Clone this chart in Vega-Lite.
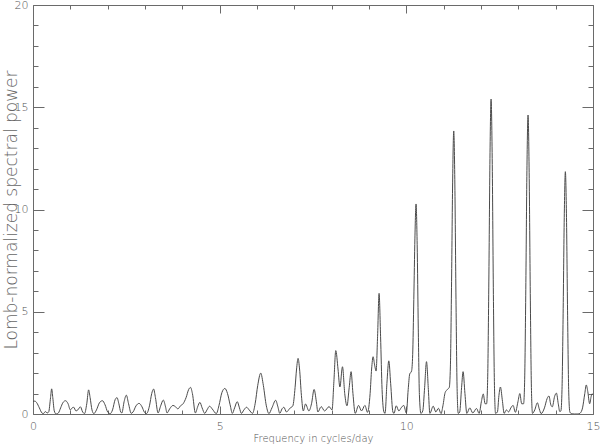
{
  "$schema": "https://vega.github.io/schema/vega-lite/v6.json",
  "width": 560,
  "height": 409,
  "autosize": {"type": "none"},
  "padding": {"left": 33, "top": 5, "right": 7, "bottom": 32},
  "background": "white",
  "config": {
    "view": {"stroke": "#6a6a6a", "strokeWidth": 1},
    "axis": {"domain": false, "grid": false, "tickColor": "#6a6a6a", "labelColor": "#505050", "titleColor": "#505050", "labelFont": "DejaVu Sans", "titleFont": "DejaVu Sans", "titleFontWeight": 200, "labelFontWeight": 200, "labelFontSize": 11, "titleFontSize": 10}
  },
  "data": {"values": [
    {"f":0.00,"p":0.62},{"f":0.05,"p":0.63},{"f":0.10,"p":0.55},{"f":0.17,"p":0.3},{"f":0.24,"p":0.05},{"f":0.28,"p":0.02},{"f":0.33,"p":0.12},{"f":0.38,"p":0.05},{"f":0.42,"p":0.1},{"f":0.47,"p":0.8},{"f":0.50,"p":1.23},{"f":0.53,"p":0.8},{"f":0.57,"p":0.15},{"f":0.62,"p":0.0},{"f":0.68,"p":0.05},{"f":0.74,"p":0.3},{"f":0.80,"p":0.55},{"f":0.87,"p":0.65},{"f":0.94,"p":0.5},{"f":1.00,"p":0.2},{"f":1.05,"p":0.3},{"f":1.09,"p":0.33},{"f":1.15,"p":0.15},{"f":1.20,"p":0.2},{"f":1.27,"p":0.35},{"f":1.33,"p":0.1},{"f":1.38,"p":0.02},{"f":1.44,"p":0.5},{"f":1.49,"p":1.18},{"f":1.53,"p":0.8},{"f":1.58,"p":0.2},{"f":1.63,"p":0.02},{"f":1.70,"p":0.2},{"f":1.78,"p":0.55},{"f":1.86,"p":0.65},{"f":1.93,"p":0.45},{"f":2.00,"p":0.1},{"f":2.07,"p":0.02},{"f":2.13,"p":0.2},{"f":2.20,"p":0.7},{"f":2.25,"p":0.8},{"f":2.30,"p":0.5},{"f":2.35,"p":0.1},{"f":2.38,"p":0.05},{"f":2.44,"p":0.6},{"f":2.50,"p":0.92},{"f":2.56,"p":0.5},{"f":2.63,"p":0.03},{"f":2.68,"p":0.1},{"f":2.76,"p":0.4},{"f":2.84,"p":0.52},{"f":2.92,"p":0.35},{"f":2.98,"p":0.1},{"f":3.04,"p":0.02},{"f":3.12,"p":0.4},{"f":3.18,"p":1.0},{"f":3.23,"p":1.22},{"f":3.28,"p":0.8},{"f":3.35,"p":0.05},{"f":3.42,"p":0.4},{"f":3.49,"p":0.68},{"f":3.55,"p":0.35},{"f":3.59,"p":0.05},{"f":3.66,"p":0.25},{"f":3.75,"p":0.42},{"f":3.82,"p":0.35},{"f":3.88,"p":0.25},{"f":3.95,"p":0.4},{"f":4.02,"p":0.5},{"f":4.10,"p":0.8},{"f":4.17,"p":1.2},{"f":4.22,"p":1.3},{"f":4.27,"p":1.0},{"f":4.35,"p":0.05},{"f":4.41,"p":0.35},{"f":4.47,"p":0.57},{"f":4.53,"p":0.3},{"f":4.60,"p":0.03},{"f":4.66,"p":0.2},{"f":4.73,"p":0.38},{"f":4.80,"p":0.25},{"f":4.91,"p":0.02},{"f":4.98,"p":0.4},{"f":5.06,"p":1.05},{"f":5.14,"p":1.25},{"f":5.21,"p":1.0},{"f":5.28,"p":0.45},{"f":5.34,"p":0.03},{"f":5.40,"p":0.3},{"f":5.47,"p":0.6},{"f":5.53,"p":0.3},{"f":5.58,"p":0.03},{"f":5.65,"p":0.2},{"f":5.72,"p":0.33},{"f":5.79,"p":0.2},{"f":5.88,"p":0.03},{"f":5.95,"p":0.5},{"f":6.02,"p":1.4},{"f":6.10,"p":2.0},{"f":6.17,"p":1.4},{"f":6.25,"p":0.4},{"f":6.32,"p":0.02},{"f":6.40,"p":0.3},{"f":6.50,"p":0.67},{"f":6.56,"p":0.35},{"f":6.61,"p":0.03},{"f":6.67,"p":0.25},{"f":6.72,"p":0.33},{"f":6.79,"p":0.1},{"f":6.88,"p":0.28},{"f":6.96,"p":0.4},{"f":7.02,"p":1.3},{"f":7.06,"p":2.2},{"f":7.10,"p":2.72},{"f":7.14,"p":2.2},{"f":7.19,"p":0.9},{"f":7.24,"p":0.15},{"f":7.30,"p":0.49},{"f":7.39,"p":0.15},{"f":7.46,"p":0.5},{"f":7.53,"p":1.2},{"f":7.59,"p":0.6},{"f":7.63,"p":0.1},{"f":7.72,"p":0.36},{"f":7.81,"p":0.15},{"f":7.93,"p":0.36},{"f":8.01,"p":0.2},{"f":8.06,"p":1.6},{"f":8.11,"p":3.1},{"f":8.17,"p":2.2},{"f":8.22,"p":1.32},{"f":8.29,"p":2.31},{"f":8.35,"p":1.0},{"f":8.41,"p":0.4},{"f":8.47,"p":1.3},{"f":8.52,"p":2.07},{"f":8.57,"p":1.0},{"f":8.63,"p":0.03},{"f":8.72,"p":0.42},{"f":8.80,"p":0.15},{"f":8.89,"p":0.42},{"f":8.96,"p":0.08},{"f":9.03,"p":1.0},{"f":9.07,"p":2.2},{"f":9.11,"p":2.8},{"f":9.15,"p":2.4},{"f":9.19,"p":2.1},{"f":9.23,"p":3.8},{"f":9.27,"p":5.9},{"f":9.31,"p":3.8},{"f":9.35,"p":1.2},{"f":9.40,"p":0.1},{"f":9.43,"p":0.03},{"f":9.48,"p":1.5},{"f":9.53,"p":2.6},{"f":9.58,"p":1.5},{"f":9.64,"p":0.1},{"f":9.67,"p":0.03},{"f":9.73,"p":0.4},{"f":9.80,"p":0.15},{"f":9.86,"p":0.3},{"f":9.93,"p":0.42},{"f":10.00,"p":0.05},{"f":10.05,"p":1.2},{"f":10.09,"p":1.95},{"f":10.14,"p":2.1},{"f":10.17,"p":2.9},{"f":10.20,"p":5.6},{"f":10.23,"p":8.6},{"f":10.26,"p":10.27},{"f":10.29,"p":8.3},{"f":10.32,"p":4.2},{"f":10.35,"p":0.95},{"f":10.39,"p":0.03},{"f":10.44,"p":0.15},{"f":10.49,"p":1.3},{"f":10.54,"p":2.56},{"f":10.59,"p":1.2},{"f":10.63,"p":0.03},{"f":10.72,"p":0.38},{"f":10.79,"p":0.1},{"f":10.86,"p":0.28},{"f":10.93,"p":0.02},{"f":10.98,"p":0.4},{"f":11.04,"p":1.05},{"f":11.10,"p":1.2},{"f":11.15,"p":1.3},{"f":11.18,"p":2.3},{"f":11.21,"p":6.2},{"f":11.24,"p":11.3},{"f":11.27,"p":13.84},{"f":11.30,"p":11.2},{"f":11.33,"p":5.6},{"f":11.36,"p":1.25},{"f":11.39,"p":0.03},{"f":11.43,"p":0.1},{"f":11.48,"p":1.3},{"f":11.52,"p":2.07},{"f":11.57,"p":1.0},{"f":11.62,"p":0.03},{"f":11.70,"p":0.3},{"f":11.78,"p":0.05},{"f":11.88,"p":0.27},{"f":11.95,"p":0.03},{"f":12.01,"p":0.6},{"f":12.06,"p":0.98},{"f":12.11,"p":0.5},{"f":12.15,"p":0.5},{"f":12.18,"p":1.85},{"f":12.21,"p":6.5},{"f":12.24,"p":12.5},{"f":12.27,"p":15.4},{"f":12.30,"p":12.5},{"f":12.33,"p":6.2},{"f":12.36,"p":1.4},{"f":12.39,"p":0.03},{"f":12.44,"p":0.1},{"f":12.48,"p":0.9},{"f":12.52,"p":1.32},{"f":12.57,"p":0.7},{"f":12.62,"p":0.03},{"f":12.68,"p":0.2},{"f":12.74,"p":0.1},{"f":12.80,"p":0.3},{"f":12.86,"p":0.42},{"f":12.92,"p":0.08},{"f":12.99,"p":0.6},{"f":13.04,"p":1.0},{"f":13.09,"p":0.5},{"f":13.14,"p":0.5},{"f":13.17,"p":1.7},{"f":13.20,"p":6.1},{"f":13.23,"p":11.9},{"f":13.26,"p":14.62},{"f":13.29,"p":11.8},{"f":13.32,"p":5.9},{"f":13.35,"p":1.3},{"f":13.38,"p":0.03},{"f":13.44,"p":0.2},{"f":13.51,"p":0.55},{"f":13.56,"p":0.25},{"f":13.61,"p":0.02},{"f":13.70,"p":0.3},{"f":13.77,"p":0.75},{"f":13.82,"p":0.88},{"f":13.87,"p":0.45},{"f":13.91,"p":0.35},{"f":13.97,"p":0.85},{"f":14.02,"p":1.02},{"f":14.07,"p":0.5},{"f":14.11,"p":0.12},{"f":14.14,"p":0.15},{"f":14.17,"p":1.2},{"f":14.20,"p":4.9},{"f":14.23,"p":9.6},{"f":14.26,"p":11.85},{"f":14.29,"p":9.6},{"f":14.32,"p":4.8},{"f":14.35,"p":1.07},{"f":14.38,"p":0.1},{"f":14.42,"p":0.02},{"f":14.50,"p":0.0},{"f":14.60,"p":0.0},{"f":14.66,"p":0.05},{"f":14.72,"p":0.3},{"f":14.78,"p":1.0},{"f":14.82,"p":1.42},{"f":14.86,"p":1.1},{"f":14.91,"p":0.5},{"f":14.95,"p":0.85},{"f":14.97,"p":0.98},{"f":15.00,"p":0.95}
  ]},
  "layer": [
    {
      "mark": {"type": "line", "color": "#4a4a4a", "strokeWidth": 1, "interpolate": "monotone", "clip": true},
      "encoding": {
        "x": {"field": "f", "type": "quantitative", "scale": {"domain": [0, 15], "nice": false, "zero": false},
          "axis": {"orient": "bottom", "values": [0,1,2,3,4,5,6,7,8,9,10,11,12,13,14,15], "labelExpr": "datum.value % 5 === 0 ? datum.label : ''", "tickSize": {"condition": {"test": "datum.value % 5 === 0", "value": -8}, "value": -4}, "labelPadding": 14, "labelFlush": false, "title": "Frequency in cycles/day", "titlePadding": 2}},
        "y": {"field": "p", "type": "quantitative", "scale": {"domain": [0, 20], "nice": false},
          "axis": {"orient": "left", "values": [0,1,2,3,4,5,6,7,8,9,10,11,12,13,14,15,16,17,18,19,20], "labelExpr": "datum.value % 5 === 0 ? datum.label : ''", "tickSize": {"condition": {"test": "datum.value % 5 === 0", "value": -11}, "value": -5}, "labelPadding": 16, "labelFlush": false, "title": "Lomb-normalized spectral power", "titleFontSize": 17, "titleColor": "#666666", "titlePadding": -6}}
      }
    },
    {
      "mark": {"type": "line", "strokeOpacity": 0},
      "encoding": {
        "x": {"field": "f", "type": "quantitative",
          "axis": {"orient": "top", "values": [0,1,2,3,4,5,6,7,8,9,10,11,12,13,14,15], "labels": false, "title": null, "tickSize": {"condition": {"test": "datum.value % 5 === 0", "value": -8}, "value": -4}}},
        "y": {"field": "p", "type": "quantitative",
          "axis": {"orient": "right", "values": [0,1,2,3,4,5,6,7,8,9,10,11,12,13,14,15,16,17,18,19,20], "labels": false, "title": null, "tickSize": {"condition": {"test": "datum.value % 5 === 0", "value": -11}, "value": -5}}}
      }
    }
  ],
  "resolve": {"axis": {"x": "independent", "y": "independent"}}
}
